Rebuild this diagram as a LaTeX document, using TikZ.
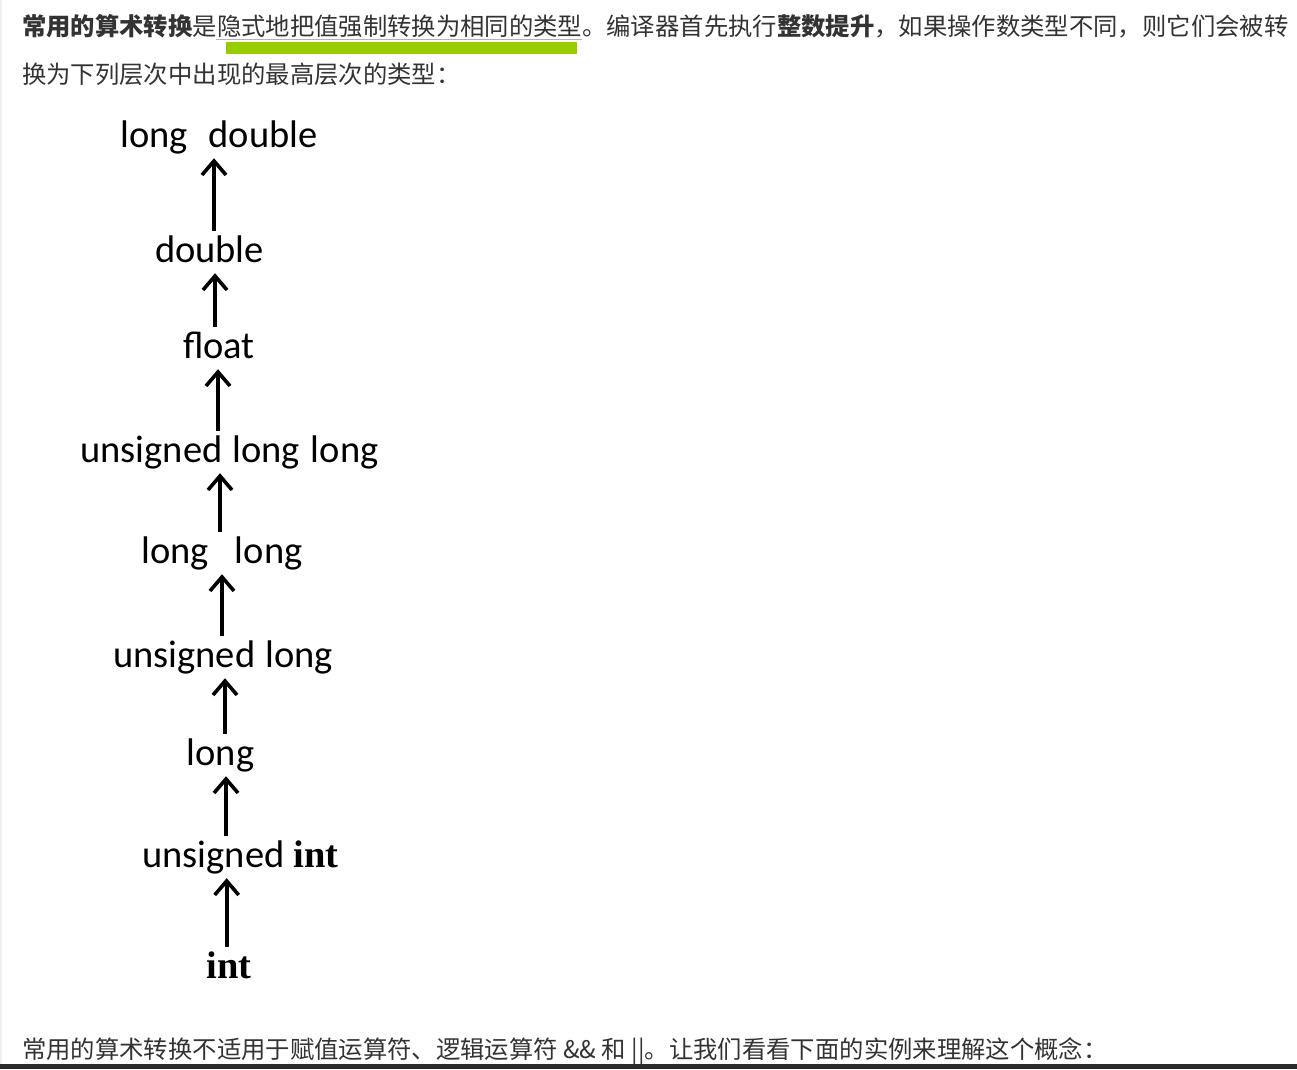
\documentclass[tikz,border=0pt]{standalone}
\usepackage{fontspec}
\setmainfont{Carlito}
\newfontfamily\cjk{Noto Sans CJK SC}
\newfontfamily\serifb{Liberation Serif}
\usetikzlibrary{arrows.meta}
\definecolor{txt}{HTML}{333333}
\definecolor{hl}{HTML}{99CC00}
\definecolor{strip}{HTML}{2B2B2B}
\begin{document}
\begin{tikzpicture}[x=1pt,y=-1pt,
  lbl/.style={anchor=base,inner sep=0pt,text height=28pt,text depth=9pt,font=\fontsize{38.5}{40}\selectfont},
  para/.style={anchor=base west,inner sep=0pt,text=txt,font=\cjk\fontsize{24.35}{28}\selectfont},
  up/.style={line width=3.6pt,-{Straight Barb[length=14pt,width=24pt]},shorten <=3pt,shorten >=2pt}]
\useasboundingbox (0,0) rectangle (1297,1069);
\fill[white] (0,0) rectangle (1297,1069);
\draw[gray!12,line width=2pt] (1,0) -- (1,1064);
% paragraph text
\node[para] (p1) at (22,35.5) {{\bfseries 常用的算术转换}是隐式地把值强制转换为相同的类型。编译器首先执行{\bfseries 整数提升}，如果操作数类型不同，则它们会被转};
\node[para] (p2) at (22,83) {换为下列层次中出现的最高层次的类型：};
\node[para] (p3) at (22,1058) {常用的算术转换不适用于赋值运算符、逻辑运算符 \&\& 和 ||。让我们看看下面的实例来理解这个概念：};
\draw[gray!60,line width=1pt] (216,39.5) -- (582,39.5);
\fill[hl] (226,42) rectangle (577,54);
\fill[strip] (0,1064) rectangle (1297,1069);
% hierarchy
\node[lbl] (ldouble) at (219,147) {long\hspace{21pt}double};
\node[lbl] (double) at (209.5,262) {double};
\node[lbl] (float) at (219,358) {float};
\node[lbl] (ull) at (229.5,462) {unsigned\hspace{10pt}long\hspace{11pt}long};
\node[lbl] (llong) at (222,563) {long\hspace{26pt}long};
\node[lbl] (ulong) at (223,667) {unsigned\hspace{10pt}long};
\node[lbl] (long) at (220.5,765) {long};
\node[lbl] (uint) at (240.5,867) {unsigned\hspace{9pt}{\serifb\bfseries int}};
\node[lbl] (int) at (229,978) {\serifb\bfseries int};
\draw[up] ([xshift=4.5pt]double.north) -- ([xshift=-5pt]ldouble.south);
\draw[up] ([xshift=-4pt]float.north) -- ([xshift=5.5pt]double.south);
\draw[up] ([xshift=-11.5pt]ull.north) -- ([xshift=-1pt]float.south);
\draw[up] ([xshift=-2pt]llong.north) -- ([xshift=-9.5pt]ull.south);
\draw[up] ([xshift=-1pt]ulong.north) -- ([xshift=0pt]llong.south);
\draw[up] ([xshift=4.5pt]long.north) -- ([xshift=2pt]ulong.south);
\draw[up] ([xshift=-14.5pt]uint.north) -- ([xshift=5.5pt]long.south);
\draw[up] ([xshift=-2.3pt]int.north) -- ([xshift=-13.8pt]uint.south);
\end{tikzpicture}
\end{document}
